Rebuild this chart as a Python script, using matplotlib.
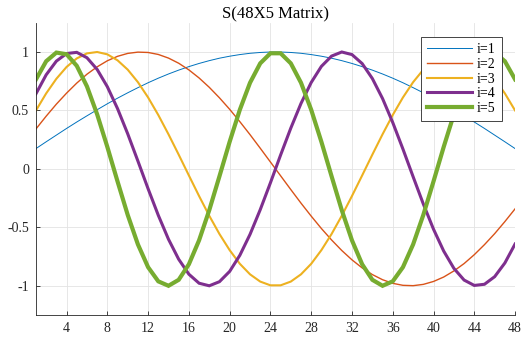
import matplotlib
matplotlib.use("Agg")
import matplotlib.pyplot as plt
import numpy as np

x = list(range(1, 49))

half1 = [0.174, 0.232, 0.289, 0.346, 0.401, 0.454, 0.506, 0.557, 0.605, 0.651,
         0.695, 0.737, 0.776, 0.812, 0.845, 0.875, 0.902, 0.926, 0.947, 0.964,
         0.978, 0.989, 0.996, 1.000]
s1 = half1 + half1[::-1]

half2 = [0.342, 0.451, 0.554, 0.648, 0.734, 0.810, 0.873, 0.925, 0.963, 0.988,
         0.999, 0.996, 0.979, 0.948, 0.904, 0.847, 0.778, 0.698, 0.608, 0.510,
         0.404, 0.293, 0.177, 0.059]
s2 = half2 + [-v for v in half2[::-1]]

half3 = [0.500, 0.646, 0.771, 0.872, 0.945, 0.988, 1.000, 0.980, 0.929, 0.849,
         0.742, 0.611, 0.461, 0.296, 0.122, -0.056, -0.232, -0.401, -0.557, -0.695,
         -0.812, -0.902, -0.964, -0.996]
s3 = half3 + half3[::-1]

half4 = [0.643, 0.805, 0.922, 0.987, 0.997, 0.951, 0.851, 0.703, 0.516, 0.300,
         0.067, -0.170, -0.397, -0.602, -0.773, -0.901, -0.978, -1.000, -0.965, -0.877,
         -0.739, -0.560, -0.349, -0.119]
s4 = half4 + [-v for v in half4[::-1]]

half5 = [0.766, 0.921, 0.995, 0.981, 0.882, 0.706, 0.467, 0.188, -0.107, -0.394,
         -0.646, -0.841, -0.962, -1.000, -0.949, -0.816, -0.611, -0.353, -0.063, 0.232,
         0.506, 0.737, 0.903, 0.989]
s5 = half5 + half5[::-1]

series = [s1, s2, s3, s4, s5]
labels = ["i=1", "i=2", "i=3", "i=4", "i=5"]
colors = ["#0072BD", "#D95319", "#EDB120", "#7E2F8E", "#77AC30"]
widths = [0.7, 1.0, 1.5, 2.2, 3.0]

xticks = [4, 8, 12, 16, 20, 24, 28, 32, 36, 40, 44, 48]
yticks = [-1, -0.5, 0, 0.5, 1]
ytick_labels = ["-1", "-0.5", "0", "0.5", "1"]

plt.rcParams['font.family'] = ['Liberation Serif', 'DejaVu Serif']

fig = plt.figure(figsize=(5.23, 3.40), dpi=100)
ax = fig.add_axes([0.0688, 0.0735, 0.916, 0.8595])

for s, lab, c, w in zip(series, labels, colors, widths):
    ax.plot(x, s, color=c, lw=w, label=lab, solid_joinstyle='miter')

ax.set_xlim(1, 48)
ax.set_ylim(-1.25, 1.25)
ax.set_xticks(xticks)
ax.set_yticks(yticks)
ax.set_yticklabels(ytick_labels)
ax.tick_params(direction='in', length=3, width=0.6, colors='#262626', labelsize=10, pad=5)
ax.grid(True, color='#e3e3e3', lw=0.6)
ax.set_axisbelow(True)
for sp in ['top', 'right']:
    ax.spines[sp].set_visible(False)
for sp in ['left', 'bottom']:
    ax.spines[sp].set_color('#262626')
    ax.spines[sp].set_linewidth(0.6)

ax.set_title("S(48X5 Matrix)", fontsize=12, color='#000000', pad=3)
leg = ax.legend(loc='upper right', bbox_to_anchor=(0.973, 0.951), borderaxespad=0,
                fontsize=10, fancybox=False, framealpha=1, edgecolor='#262626',
                handlelength=3.2, handletextpad=0.4, labelspacing=0.12,
                borderpad=0.45)
leg.get_frame().set_linewidth(0.6)

fig.savefig("out.png", dpi=100)
